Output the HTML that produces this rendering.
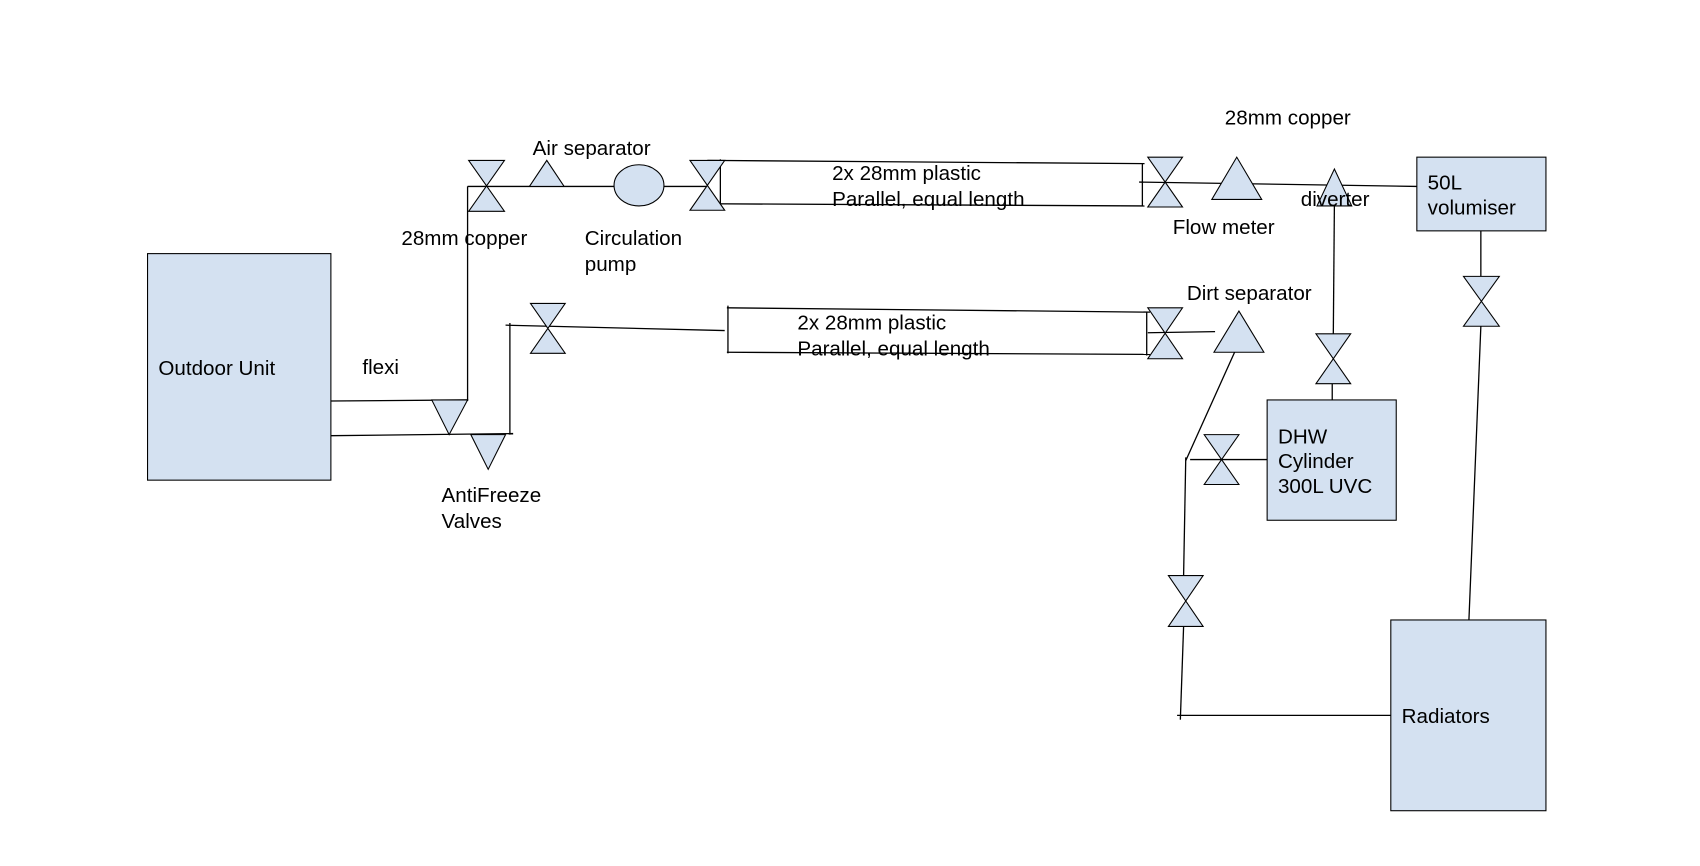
<!DOCTYPE html>
<html><head><meta charset="utf-8"><style>
html,body{margin:0;padding:0;background:#fff;width:1700px;height:866px;overflow:hidden}
svg{display:block}
text{font-family:"Liberation Sans",Arial,sans-serif;font-size:19px;fill:#000}
</style></head><body>
<svg width="1700" height="866" viewBox="0 0 1567 799" preserveAspectRatio="none">
<g fill="#d4e1f1" stroke="#000" stroke-width="1">
<rect x="136" y="234" width="169" height="209"/>
<rect x="1306" y="145" width="119" height="68"/>
<rect x="1168" y="369" width="119" height="111"/>
<rect x="1282" y="572" width="143" height="176"/>
</g>
<g stroke="#000" stroke-width="1.2" fill="none">
<line x1="305" y1="370" x2="431" y2="369"/>
<line x1="305" y1="402" x2="473" y2="400"/>
<line x1="431" y1="370" x2="431" y2="172"/>
<line x1="431" y1="172" x2="566" y2="172"/>
<line x1="612" y1="172" x2="652" y2="172"/>
<line x1="652" y1="148" x2="1055" y2="151"/>
<line x1="652" y1="188" x2="1055" y2="190"/>
<line x1="664" y1="147" x2="664" y2="190"/>
<line x1="1053" y1="151" x2="1053" y2="190"/>
<line x1="1050" y1="168" x2="1306" y2="172"/>
<line x1="1365" y1="213" x2="1365" y2="255"/>
<line x1="1365" y1="301" x2="1354" y2="572"/>
<line x1="1230" y1="188" x2="1229" y2="308"/>
<line x1="1228" y1="354" x2="1228" y2="369"/>
<line x1="470" y1="401" x2="470" y2="298"/>
<line x1="466" y1="300" x2="668" y2="305"/>
<line x1="670" y1="284" x2="1060" y2="288"/>
<line x1="670" y1="325" x2="1060" y2="327"/>
<line x1="671" y1="282" x2="671" y2="326"/>
<line x1="1057" y1="288" x2="1057" y2="328"/>
<line x1="1058" y1="307" x2="1120" y2="306"/>
<line x1="1138" y1="325" x2="1093" y2="425"/>
<line x1="1093" y1="422" x2="1091" y2="531"/>
<line x1="1091" y1="578" x2="1088" y2="664"/>
<line x1="1085" y1="660" x2="1282" y2="660"/>
<line x1="1097" y1="424" x2="1168" y2="424"/>
</g>
<g fill="#d4e1f1" stroke="#000" stroke-width="1">
<path d="M398,369 L431,369 L414,401 Z"/>
<path d="M434,401 L466,401 L450,433 Z"/>
<path d="M432,148 L465,148 L432,195 L465,195 Z"/>
<path d="M488,172 L520,172 L504,148 Z"/>
<ellipse cx="589" cy="171" rx="23" ry="19"/>
<path d="M636,148 L668,148 L636,194 L668,194 Z"/>
<path d="M1058,145 L1090,145 L1058,191 L1090,191 Z"/>
<path d="M1117,184 L1163,184 L1140,145 Z"/>
<path d="M1214,190 L1246,190 L1230,156 Z"/>
<path d="M1349,255 L1382,255 L1349,301 L1382,301 Z"/>
<path d="M1213,308 L1245,308 L1213,354 L1245,354 Z"/>
<path d="M489,280 L521,280 L489,326 L521,326 Z"/>
<path d="M1058,284 L1090,284 L1058,331 L1090,331 Z"/>
<path d="M1119,325 L1165,325 L1142,287 Z"/>
<path d="M1110,401 L1142,401 L1110,447 L1142,447 Z"/>
<path d="M1077,531 L1109,531 L1077,578 L1109,578 Z"/>
</g>
<text x="146" y="346">Outdoor Unit</text>
<text x="334" y="345">flexi</text>
<text x="407" y="463">AntiFreeze</text>
<text x="407" y="487">Valves</text>
<text x="370" y="226">28mm copper</text>
<text x="491" y="143">Air separator</text>
<text x="539" y="226">Circulation</text>
<text x="539" y="250">pump</text>
<text x="767" y="166">2x 28mm plastic</text>
<text x="767" y="190">Parallel, equal length</text>
<text x="735" y="304">2x 28mm plastic</text>
<text x="735" y="328">Parallel, equal length</text>
<text x="1129" y="115">28mm copper</text>
<text x="1081" y="216">Flow meter</text>
<text x="1199" y="190">diverter</text>
<text x="1316" y="175">50L</text>
<text x="1316" y="198">volumiser</text>
<text x="1094" y="277">Dirt separator</text>
<text x="1178" y="409">DHW</text>
<text x="1178" y="432">Cylinder</text>
<text x="1178" y="455">300L UVC</text>
<text x="1292" y="667">Radiators</text>
</svg>
</body></html>
